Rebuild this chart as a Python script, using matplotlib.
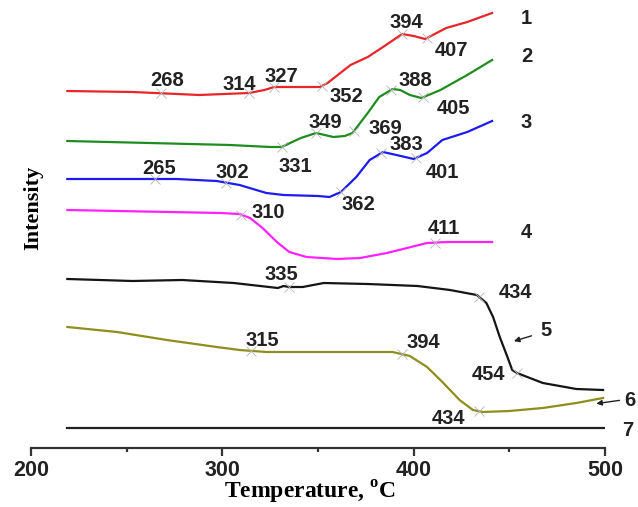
import matplotlib.pyplot as plt
import numpy as np

plt.rcParams['mathtext.fontset'] = 'custom'
plt.rcParams['mathtext.rm'] = 'Liberation Serif:bold'

# --- curves: temperature (C) vs intensity (arb. units) ---
t1 = [219, 253, 288, 314, 322, 327, 341, 351, 355, 367, 376, 384, 394, 400, 406, 417, 428, 441]
i1 = [357, 356, 353, 355, 358, 361, 361, 361, 365, 383, 391, 401, 414, 412, 409, 420, 426, 435]

t2 = [219, 262, 304, 325, 331, 341, 349, 358, 364, 368, 376, 382, 389, 393, 398, 404, 414, 428, 441]
i2 = [307, 305, 303, 301, 301, 310, 315, 311, 312, 315, 335, 351, 359, 358, 353, 350, 358, 373, 388]

t3 = [219, 276, 297, 309, 323, 332, 350, 356, 362, 370, 377, 384, 391, 400, 407, 415, 428, 441]
i3 = [269, 269, 267, 263, 255, 253, 252, 251, 256, 271, 288, 296, 293, 289, 295, 308, 316, 327]

t4 = [219, 299, 309, 314.5, 321, 328.5, 335, 344, 360, 372, 386, 396.5, 407, 417.5, 441]
i4 = [238, 235, 234, 230, 220, 206, 196, 191, 189, 190, 195, 200, 205, 206, 206]

t5 = [219, 253, 279, 306, 329, 332, 335, 342, 353, 376, 402, 419, 433, 438, 441.5, 445, 449,
      451.5, 454, 467.5, 485, 499]
i5 = [169, 167, 168, 165, 160, 162, 161, 161, 165, 164, 162, 158, 153, 145, 131, 111, 91,
      78, 75, 65, 59, 58]

t6 = [219, 245, 271, 297, 309, 323, 351, 372, 389, 398, 407, 415, 424, 431, 436, 450, 467.5,
      485, 499]
i6 = [121, 116, 108, 101, 98, 96, 96, 96, 96, 92, 81, 66, 48, 38, 36, 37, 40, 45, 50]

t7 = [219, 500]
i7 = [20, 20]

temps = [t1, t2, t3, t4, t5, t6, t7]
intens = [i1, i2, i3, i4, i5, i6, i7]
curve_names = ['1', '2', '3', '4', '5', '6', '7']

# characteristic temperatures marked on each curve
marked = [
    [268, 314, 327, 352, 394, 407],
    [331, 349, 369, 388, 405],
    [265, 302, 362, 383, 401],
    [310, 411],
    [335, 434, 454],
    [315, 394, 434],
    [],
]

colors = ['#e8262a', '#1f8c1f', '#1c1cf0', '#ff22ff', '#151515', '#8e8e1c', '#222222']

# label placement (x, y in data units), one per marked temperature
label_xy = [
    [(271, 368), (309, 363), (331, 371), (365, 352), (396, 425), (420, 398)],
    [(338, 282), (354, 325), (385, 320), (401, 368), (421, 340)],
    [(267, 279), (305, 276), (371, 244), (396, 304), (415, 275)],
    [(324, 236), (416, 219)],
    [(331, 174), (453, 155), (439, 73)],
    [(321, 108), (405, 105), (418, 30)],
    [],
]
name_xy = [(459, 429), (459, 391), (459, 326), (459, 216), (469, 117), (513, 47), (512, 17)]

fig = plt.figure(figsize=(6.38, 5.07), dpi=100)
ax = fig.add_axes([31 / 638, 59 / 507, 574 / 638, 448 / 507])

for k in range(7):
    ax.plot(temps[k], intens[k], color=colors[k], lw=1.6, zorder=3,
            solid_joinstyle='round')
    for tm, (lx, ly) in zip(marked[k], label_xy[k]):
        yv = np.interp(tm, temps[k], intens[k])
        ax.plot(tm, yv, marker='x', ms=7, mew=0.6, color='#b4b4b4', zorder=4)
        ax.text(lx, ly, str(tm), fontsize=14.5, fontweight='bold', color='#222222',
                ha='center', va='center', family='Liberation Sans')

for k in range(7):
    nx, ny = name_xy[k]
    ax.text(nx, ny, curve_names[k], fontsize=14.5, fontweight='bold', color='#222222',
            ha='center', va='center', family='Liberation Sans', clip_on=False)

# arrows pointing at curves 5 and 6
ax.annotate('', xy=(451, 106), xytext=(463, 113),
            arrowprops=dict(arrowstyle='-|>', color='#222222', lw=1.0, mutation_scale=8))
ax.annotate('', xy=(494, 44), xytext=(509, 48), annotation_clip=False,
            arrowprops=dict(arrowstyle='-|>', color='#222222', lw=1.0, mutation_scale=8))

ax.set_xlim(200, 500)
ax.set_ylim(0, 448)
for side in ['top', 'right', 'left']:
    ax.spines[side].set_visible(False)
ax.spines['bottom'].set_linewidth(1.6)
ax.spines['bottom'].set_color('#333333')
ax.set_yticks([])
ax.set_xticks([200, 300, 400, 500])
ax.set_xticks([250, 350, 450], minor=True)
ax.tick_params(axis='x', which='major', length=6, width=1.6, color='#333333', pad=3)
ax.tick_params(axis='x', which='minor', length=3, width=1.6, color='#333333')
for lab in ax.get_xticklabels():
    lab.set_fontsize(15.5)
    lab.set_fontweight('bold')
    lab.set_family('Liberation Sans')
    lab.set_color('#222222')

fig.text(310 / 638, 1 - 492 / 507, r'Temperature, $^{\mathrm{o}}$C', fontsize=17,
         fontweight='bold', family='Liberation Serif', ha='center', va='center')
fig.text(33 / 638, 1 - 208 / 507, 'Intensity', fontsize=16, fontweight='bold',
         family='Liberation Serif', ha='center', va='center', rotation=90)

fig.savefig('out.png', dpi=100)
